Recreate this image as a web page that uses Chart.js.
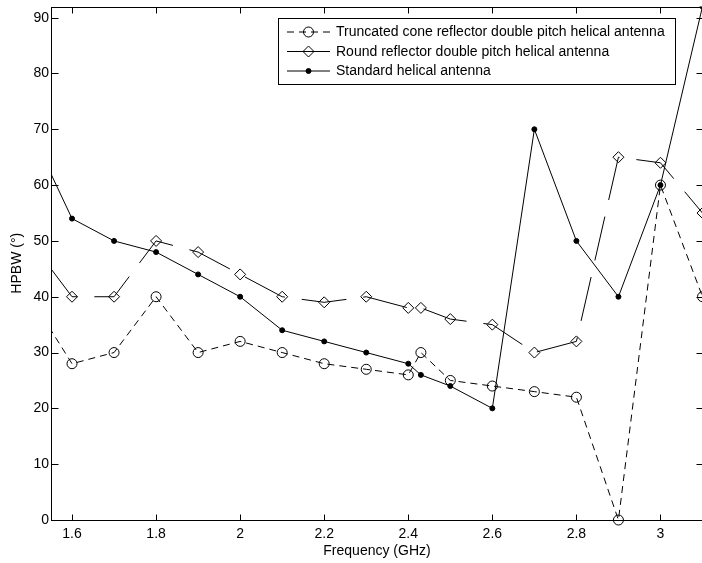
<!DOCTYPE html>
<html>
<head>
<meta charset="utf-8">
<script src="https://cdn.jsdelivr.net/npm/chart.js@4.4.1/dist/chart.umd.min.js"></script>
<style>
  html, body { margin: 0; padding: 0; overflow: hidden; background: #fff; }
  #wrap { width: 702px; height: 563px; overflow: hidden; position: relative; }
  canvas { display: block; }
</style>
</head>
<body>
<div id="wrap"><canvas id="hpbwChart" width="709" height="563"></canvas></div>
<script>
// HPBW vs frequency for the three antennas
const freqs = [1.5, 1.6, 1.7, 1.8, 1.9, 2.0, 2.1, 2.2, 2.3, 2.4, 2.43, 2.5, 2.6, 2.7, 2.8, 2.9, 3.0, 3.1];
const truncatedCone = [40, 28, 30, 40, 30, 32, 30, 28, 27, 26, 30, 25, 24, 23, 22, 0, 60, 40];
const roundReflector = [50, 40, 40, 50, 48, 44, 40, 39, 40, 38, 38, 36, 35, 30, 32, 65, 64, 55];
const standardHelix = [70, 54, 50, 48, 44, 40, 34, 32, 30, 28, 26, 24, 20, 70, 50, 40, 60, 92];

const seriesNames = [
    'Truncated cone reflector double pitch helical antenna',
    'Round reflector double pitch helical antenna',
    'Standard helical antenna'
];

const xTicks = [1.6, 1.8, 2.0, 2.2, 2.4, 2.6, 2.8, 3.0];
const yTicks = [0, 10, 20, 30, 40, 50, 60, 70, 80, 90];

const FONT = '"Liberation Sans", Arial, sans-serif';

const toPoints = (vals) => vals.map((v, i) => ({ x: freqs[i], y: v }));

// box, inward ticks, axis titles and the legend, matlab style
const frame = {
    id: 'frame',
    afterDraw(chart) {
        const { ctx, chartArea: a, scales } = chart;
        const L = Math.round(a.left) + 0.5, R = Math.round(a.right) + 0.5;
        const T = Math.round(a.top) + 0.5, B = Math.round(a.bottom) + 0.5;
        ctx.save();
        ctx.strokeStyle = '#000';
        ctx.lineWidth = 1;
        ctx.setLineDash([]);
        ctx.strokeRect(L, T, R - L, B - T);

        ctx.beginPath();
        xTicks.forEach(v => {
            const px = Math.round(scales.x.getPixelForValue(v)) + 0.5;
            ctx.moveTo(px, B); ctx.lineTo(px, B - 6);
            ctx.moveTo(px, T); ctx.lineTo(px, T + 6);
        });
        yTicks.forEach(v => {
            const py = Math.round(scales.y.getPixelForValue(v)) + 0.5;
            ctx.moveTo(L, py); ctx.lineTo(L + 7, py);
            ctx.moveTo(R, py); ctx.lineTo(R - 7, py);
        });
        ctx.stroke();

        // axis titles
        ctx.fillStyle = '#000';
        ctx.font = '14px ' + FONT;
        ctx.textAlign = 'center';
        ctx.textBaseline = 'middle';
        ctx.fillText('Frequency (GHz)', 377, 551);
        ctx.save();
        ctx.translate(17, (a.top + a.bottom) / 2);
        ctx.rotate(-Math.PI / 2);
        ctx.fillText('HPBW (°)', 0, 0);
        ctx.restore();

        // legend
        const lx = 278.5, ly = 18.5, lw = 397, lh = 66;
        ctx.fillStyle = '#fff';
        ctx.fillRect(lx, ly, lw, lh);
        ctx.strokeRect(lx, ly, lw, lh);
        const rows = [32, 51.5, 71];
        chart.data.datasets.forEach((ds, i) => {
            const y = rows[i];
            ctx.beginPath();
            ctx.setLineDash(ds.borderDash && ds.borderDash[0] < 10 ? ds.borderDash : []);
            ctx.moveTo(287, y); ctx.lineTo(330, y);
            ctx.stroke();
            ctx.setLineDash([]);
            ctx.beginPath();
            const r = ds.pointRadius;
            if (ds.pointStyle === 'rectRot') {
                ctx.moveTo(308.5, y - r); ctx.lineTo(308.5 + r, y);
                ctx.lineTo(308.5, y + r); ctx.lineTo(308.5 - r, y);
                ctx.closePath();
            } else {
                ctx.arc(308.5, y, r, 0, Math.PI * 2);
            }
            if (ds.pointBackgroundColor === '#000') { ctx.fillStyle = '#000'; ctx.fill(); }
            ctx.stroke();
            ctx.fillStyle = '#000';
            ctx.textAlign = 'left';
            ctx.fillText(ds.label, 336, y + 0.5);
        });
        ctx.restore();
    }
};

const ctx = document.getElementById('hpbwChart').getContext('2d');
const hpbwChart = new Chart(ctx, {
    type: 'line',
    data: {
        datasets: [{
            label: seriesNames[0],
            data: toPoints(truncatedCone),
            borderColor: '#000',
            borderWidth: 1,
            borderDash: [7, 5],
            pointStyle: 'circle',
            pointRadius: 5,
            pointBorderColor: '#000',
            pointBackgroundColor: 'rgba(0,0,0,0)',
            pointBorderWidth: 1,
            clip: { left: 0, top: 0, right: 6, bottom: 7 }
        }, {
            label: seriesNames[1],
            data: toPoints(roundReflector),
            borderColor: '#000',
            borderWidth: 1,
            borderDash: [45, 17],
            borderDashOffset: 31.8,
            pointStyle: 'rectRot',
            pointRadius: 5.5,
            pointBorderColor: '#000',
            pointBackgroundColor: 'rgba(0,0,0,0)',
            pointBorderWidth: 1,
            clip: { left: 0, top: 0, right: 6, bottom: 7 }
        }, {
            label: seriesNames[2],
            data: toPoints(standardHelix),
            borderColor: '#000',
            borderWidth: 1,
            pointStyle: 'circle',
            pointRadius: 2.5,
            pointBorderColor: '#000',
            pointBackgroundColor: '#000',
            pointBorderWidth: 1,
            clip: { left: 0, top: 0, right: 6, bottom: 7 }
        }]
    },
    options: {
        responsive: false,
        animation: false,
        layout: { padding: { top: 5, right: 2, left: 0, bottom: 0 } },
        elements: { line: { tension: 0 } },
        scales: {
            x: {
                type: 'linear',
                min: 1.55,
                max: 3.1,
                grid: { display: false, drawTicks: false },
                border: { display: false },
                afterBuildTicks: (s) => { s.ticks = xTicks.map(v => ({ value: v })); },
                afterFit: (s) => { s.height = 43; s.paddingLeft = 0; s.paddingRight = 0; },
                ticks: {
                    color: '#000',
                    padding: 6,
                    maxRotation: 0,
                    autoSkip: false,
                    font: { family: FONT, size: 14 },
                    callback: (v) => String(Math.round(v * 10) / 10)
                }
            },
            y: {
                min: 0,
                max: 92,
                grid: { display: false, drawTicks: false },
                border: { display: false },
                afterBuildTicks: (s) => { s.ticks = yTicks.map(v => ({ value: v })); },
                afterFit: (s) => { s.width = 51; s.paddingTop = 0; s.paddingBottom = 0; },
                ticks: {
                    color: '#000',
                    padding: 2,
                    autoSkip: false,
                    font: { family: FONT, size: 14 }
                }
            }
        },
        plugins: {
            legend: { display: false },
            tooltip: { enabled: false }
        }
    },
    plugins: [frame]
});
</script>
</body>
</html>
